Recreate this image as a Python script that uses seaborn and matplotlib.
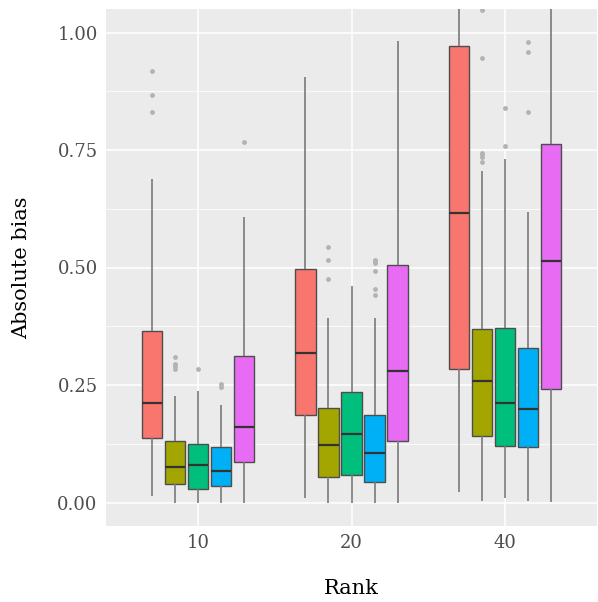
import numpy as np
import pandas as pd
import matplotlib
matplotlib.use("Agg")
import matplotlib.pyplot as plt
import seaborn as sns

# box summaries, one entry per (rank, method)
ranks = ["10", "20", "40"]
methods = ["M1", "M2", "M3", "M4", "M5"]
palette = ["#F8766D", "#A3A500", "#00BF7D", "#00B0F6", "#E76BF3"]

lower = [[0.014, 0.000, 0.000, 0.000, 0.000],
         [0.010, 0.000, 0.000, 0.000, 0.000],
         [0.023, 0.004, 0.010, 0.004, 0.002]]
q1 = [[0.137, 0.040, 0.029, 0.036, 0.087],
      [0.186, 0.055, 0.058, 0.044, 0.130],
      [0.285, 0.141, 0.120, 0.118, 0.242]]
median = [[0.212, 0.075, 0.080, 0.068, 0.161],
          [0.318, 0.123, 0.146, 0.105, 0.279],
          [0.616, 0.258, 0.212, 0.200, 0.514]]
q3 = [[0.365, 0.130, 0.124, 0.118, 0.312],
      [0.496, 0.202, 0.236, 0.186, 0.505],
      [0.971, 0.370, 0.372, 0.328, 0.762]]
upper = [[0.688, 0.227, 0.237, 0.207, 0.608],
         [0.905, 0.393, 0.461, 0.393, 0.981],
         [1.150, 0.706, 0.731, 0.618, 1.100]]
outliers = [[[0.831, 0.866, 0.918], [0.285, 0.290, 0.294, 0.310], [0.283], [0.245, 0.252], [0.768]],
            [[], [0.475, 0.516, 0.544], [], [0.441, 0.455, 0.493, 0.509, 0.513, 0.517], []],
            [[], [0.724, 0.736, 0.741, 0.743, 0.945, 1.047], [0.759, 0.839], [0.831, 0.959, 0.979], []]]

# rebuild samples whose quartiles/whiskers reproduce the read-off summaries
M = 8
rows = []
for i, r in enumerate(ranks):
    for j, m in enumerate(methods):
        out = outliers[i][j]
        vals = ([lower[i][j]] + [q1[i][j]] * M + [median[i][j]] * M
                + [q3[i][j]] * M + [upper[i][j]] * (M - len(out)) + out)
        rows += [(r, m, v) for v in vals]
df = pd.DataFrame(rows, columns=["rank", "method", "bias"])

sns.set_theme(style="darkgrid")
plt.rcParams["font.family"] = ["DejaVu Serif", "DejaVu Sans"]

fig = plt.figure(figsize=(5.98, 6.02), dpi=100)
ax = fig.add_axes([106 / 598, 76 / 602, 491 / 598, 517 / 602])
ax.set_facecolor("#EBEBEB")

sns.boxplot(data=df, x="rank", y="bias", hue="method", order=ranks,
            hue_order=methods, palette=palette, saturation=1,
            width=0.75, gap=0.1, linecolor="#4d4d4d", linewidth=1.0,
            whis=1.5, legend=False, ax=ax,
            whiskerprops=dict(color="#7a7a7a", linewidth=1.2),
            capprops=dict(linewidth=0),
            medianprops=dict(color="#333333", linewidth=1.6),
            flierprops=dict(marker="o", markersize=3.5, markerfacecolor="#b3b3b3",
                            markeredgecolor="none", alpha=1))

ax.set_xlim(-0.6, 2.6)
ax.set_ylim(-0.05, 1.05)
ax.set_yticks([0, 0.25, 0.5, 0.75, 1.0])
ax.set_yticklabels(["0.00", "0.25", "0.50", "0.75", "1.00"])
ax.set_yticks([0.125, 0.375, 0.625, 0.875], minor=True)
ax.grid(True, which="major", color="white", linewidth=1.1)
ax.grid(True, which="minor", axis="y", color="white", linewidth=0.55)
ax.set_axisbelow(True)
for s in ax.spines.values():
    s.set_visible(False)

ax.tick_params(axis="both", which="major", length=3, width=0.8, color="#333333",
               labelcolor="#4D4D4D", labelsize=13, pad=3)
ax.tick_params(axis="both", which="minor", length=0)

ax.set_xlabel("Rank", fontsize=15, color="black")
ax.set_ylabel("Absolute bias", fontsize=15, color="black")
ax.xaxis.set_label_coords(0.5, -0.12)
ax.xaxis.label.set_va("center")
ax.yaxis.set_label_coords(-0.171, 0.5)
ax.yaxis.label.set_va("center")

fig.savefig("out.png", dpi=100)
